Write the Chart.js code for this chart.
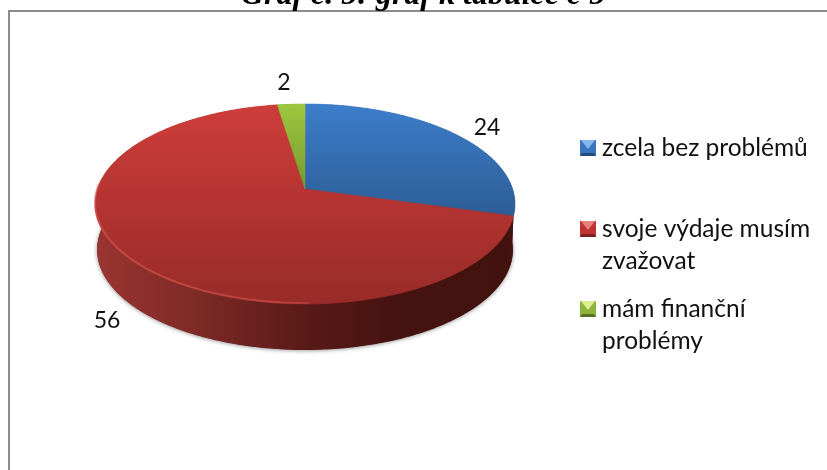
<!DOCTYPE html>
<html><head><meta charset="utf-8">
<style>html,body{margin:0;padding:0;background:#fff;overflow:hidden}canvas{display:block}</style>
<script src="https://cdn.jsdelivr.net/npm/chart.js@4"></script>
</head><body>
<canvas id="c" width="827" height="470"></canvas>
<script>
const titleText = 'Graf č. 5: graf k tabulce č 5';
const categories = ['zcela bez problémů', 'svoje výdaje musím zvažovat', 'mám finanční problémy'];
const legendLines = [['zcela bez problémů'], ['svoje výdaje musím', 'zvažovat'], ['mám finanční', 'problémy']];
const values = [24, 56, 2];

// styles
const topColors = [['#3d7dca', '#2d5d96'], ['#ce3d3a', '#982b29'], ['#9dc73f', '#78982f']];
const swatches = [['#3a76bf', '#86b6ee', '#224c7e'], ['#bf3532', '#e9807c', '#7c201e'], ['#8fb23c', '#dcef8e', '#566f22']];
const legendY = [156, 237, 317];
const labelPos = [[487, 135], [107, 328], [284, 90]];
const view = {apexX: 305, apexY: 189, c: 207.6, b: 97.75, a: 0.15, depth: 46, baseScale: 0.99};

function project(angle, r) {
  const u = Math.cos(angle) * r, v = -Math.sin(angle) * r, w = 1 + view.a * v;
  return [view.apexX + view.c * u / w, view.apexY - view.b * v / w];
}
function base(p) {
  return [view.apexX + (p[0] - view.apexX) * view.baseScale, p[1] + view.depth];
}
function rim(start, end) {
  const n = Math.max(4, Math.ceil((end - start) / 0.015)), pts = [];
  for (let i = 0; i <= n; i++) pts.push(project(start + (end - start) * i / n, 1));
  return pts;
}
function linear(ctx, x0, y0, x1, y1, a, b) {
  const g = ctx.createLinearGradient(x0, y0, x1, y1);
  g.addColorStop(0, a); g.addColorStop(1, b);
  return g;
}
function wallStyle(ctx, i) {
  if (i === 1) {
    const g = ctx.createLinearGradient(97, 0, 512, 0);
    g.addColorStop(0, '#9a3431'); g.addColorStop(0.25, '#7c2a26'); g.addColorStop(0.5, '#5a1a17');
    g.addColorStop(0.72, '#451310'); g.addColorStop(1, '#42120f');
    return g;
  }
  if (i === 0) return linear(ctx, 0, 205, 0, 228, '#2b5a90', '#42120f');
  return '#566f22';
}

const pie3d = {
  id: 'pie3d',
  beforeDatasetDraw(chart) {
    const ctx = chart.ctx, arcs = chart.getDatasetMeta(0).data;
    ctx.save();
    ctx.save();
    ctx.shadowColor = 'rgba(0,0,0,0.45)'; ctx.shadowBlur = 4; ctx.shadowOffsetY = 1;
    ctx.fillStyle = '#5a1a17';
    ctx.beginPath();
    rim(0, Math.PI * 2).map(base).forEach((p, i) => i ? ctx.lineTo(p[0], p[1] - 0.5) : ctx.moveTo(p[0], p[1] - 0.5));
    ctx.closePath(); ctx.fill();
    ctx.restore();
    // walls
    arcs.forEach((arc, i) => {
      const pts = rim(arc.startAngle, arc.endAngle);
      ctx.fillStyle = wallStyle(ctx, i);
      ctx.beginPath();
      pts.forEach((p, k) => k ? ctx.lineTo(p[0], p[1]) : ctx.moveTo(p[0], p[1]));
      pts.slice().reverse().map(base).forEach(p => ctx.lineTo(p[0], p[1]));
      ctx.closePath(); ctx.fill();
    });
    // top faces
    arcs.forEach((arc, i) => {
      const pts = rim(arc.startAngle, arc.endAngle);
      ctx.fillStyle = linear(ctx, 0, 104, 0, i === 0 ? 217 : i === 2 ? 189 : 304, topColors[i][0], topColors[i][1]);
      ctx.strokeStyle = ctx.fillStyle; ctx.lineWidth = 0.6;
      ctx.beginPath();
      ctx.moveTo(view.apexX, view.apexY);
      pts.forEach(p => ctx.lineTo(p[0], p[1]));
      ctx.closePath(); ctx.fill(); ctx.stroke();
    });
    // lit lip on the front-left edge of the large slice
    const big = arcs[1], span = big.endAngle - big.startAngle;
    const lip = rim(big.startAngle + span * 0.3, big.startAngle + span * 0.68);
    const g = ctx.createLinearGradient(95, 0, 340, 0);
    g.addColorStop(0, 'rgba(226,92,84,0.55)'); g.addColorStop(0.8, 'rgba(226,92,84,0.45)'); g.addColorStop(1, 'rgba(226,92,84,0)');
    ctx.strokeStyle = g; ctx.lineWidth = 2;
    ctx.beginPath();
    lip.forEach((p, k) => k ? ctx.lineTo(p[0], p[1] - 1) : ctx.moveTo(p[0], p[1] - 1));
    ctx.stroke();
    ctx.restore();
    return false;
  },
  afterDraw(chart) {
    const ctx = chart.ctx;
    ctx.save();
    ctx.strokeStyle = '#8c8c8c'; ctx.lineWidth = 2;
    ctx.beginPath(); ctx.moveTo(9, 470); ctx.lineTo(9, 11); ctx.lineTo(827, 11); ctx.stroke();
    ctx.fillStyle = '#000'; ctx.textBaseline = 'alphabetic';
    ctx.font = 'italic bold 32px "Liberation Serif"'; ctx.textAlign = 'center';
    ctx.fillText(titleText, 423, 4);
    ctx.font = '23px Lato'; ctx.fillStyle = '#111';
    values.forEach((v, i) => ctx.fillText(String(v), labelPos[i][0], labelPos[i][1]));
    ctx.font = '24.5px Lato'; ctx.textAlign = 'left';
    legendLines.forEach((lines, i) => {
      const y = legendY[i], x0 = 580, y0 = y - 16, s = 16, c = swatches[i];
      ctx.fillStyle = c[0]; ctx.fillRect(x0, y0, s, s);
      ctx.fillStyle = c[1];
      ctx.beginPath(); ctx.moveTo(x0 + 1, y0); ctx.lineTo(x0 + s - 1, y0); ctx.lineTo(x0 + s / 2, y0 + s / 2 + 1); ctx.closePath(); ctx.fill();
      ctx.fillStyle = c[2];
      ctx.beginPath(); ctx.moveTo(x0, y0 + s); ctx.lineTo(x0 + s, y0 + s); ctx.lineTo(x0 + s - 2, y0 + s - 3); ctx.lineTo(x0 + 2, y0 + s - 3); ctx.closePath(); ctx.fill();
      ctx.fillStyle = '#111';
      lines.forEach((t, k) => ctx.fillText(t, 602, y + k * 32));
    });
    ctx.restore();
  }
};

new Chart(document.getElementById('c'), {
  type: 'pie',
  data: {labels: categories, datasets: [{data: values, backgroundColor: topColors.map(c => c[0]), borderWidth: 0}]},
  options: {
    responsive: false, animation: false,
    plugins: {legend: {display: false}, tooltip: {enabled: false}, title: {display: false}}
  },
  plugins: [pie3d]
});
</script>
</body></html>
